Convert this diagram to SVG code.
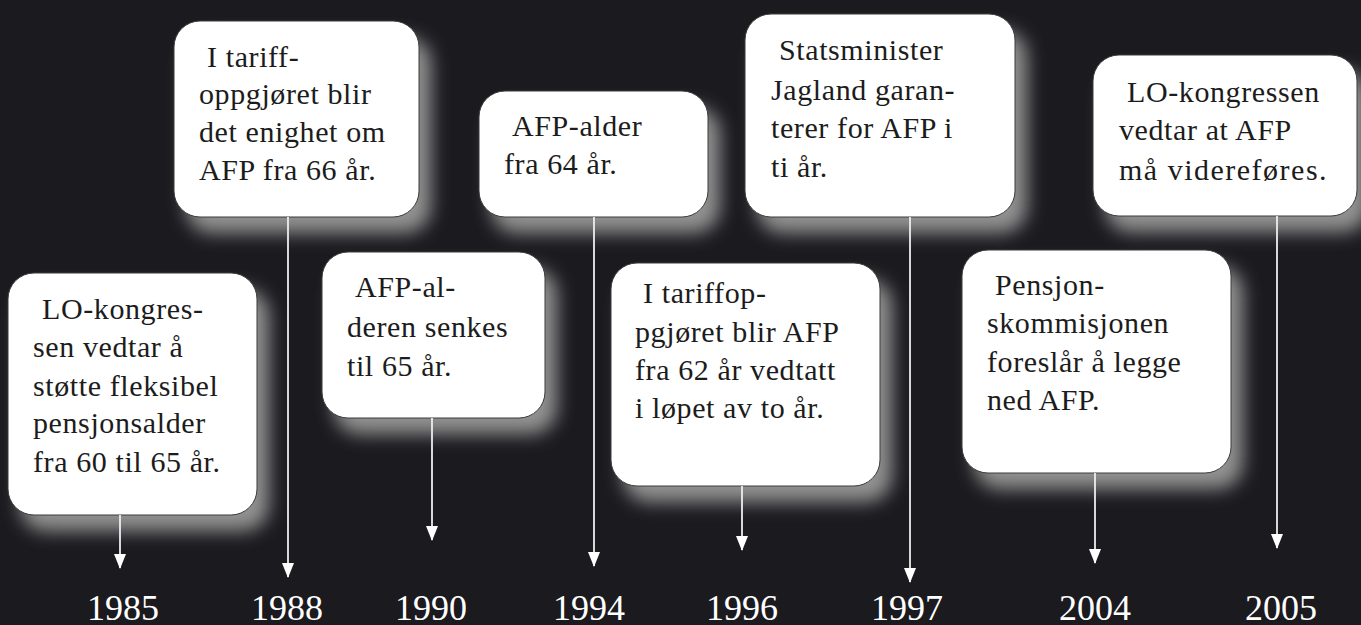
<svg xmlns="http://www.w3.org/2000/svg" width="1361" height="625" viewBox="0 0 1361 625">
<defs>
<style>
.bg{fill:#1b1a1f}
.sh{fill:#929292;filter:url(#blur)}
.box{fill:#ffffff;stroke:#3a3a3a;stroke-width:1}
.t{font-family:"Liberation Serif","Times New Roman",serif;font-size:30px;letter-spacing:0.6px;fill:#1c1c1c}
.yr{font-family:"Liberation Serif","Times New Roman",serif;font-size:36px;fill:#ffffff;text-anchor:middle}
.ln{stroke:#eeeeee;stroke-width:1.8;fill:none;marker-end:url(#ah)}
</style>
<filter id="blur" x="-30%" y="-30%" width="160%" height="160%">
<feGaussianBlur stdDeviation="9"/>
</filter>
<marker id="ah" viewBox="0 0 15 12" refX="14" refY="6" markerWidth="15" markerHeight="12" markerUnits="userSpaceOnUse" orient="auto">
<path d="M0,0 L15,6 L0,12 Z" fill="#ffffff"/>
</marker>
</defs>
<rect class="bg" x="0" y="0" width="1361" height="625"/>

<g id="node-1985">
<rect class="sh" x="20" y="289" width="249" height="242" rx="26"/>
<rect class="box" x="8" y="273" width="249" height="242" rx="26"/>
<text class="t"><tspan x="42" y="319">LO-kongres-</tspan><tspan x="33" y="357">sen vedtar å</tspan><tspan x="33" y="396">støtte fleksibel</tspan><tspan x="33" y="433">pensjonsalder</tspan><tspan x="33" y="472">fra 60 til 65 år.</tspan></text>
</g>

<g id="node-1988">
<rect class="sh" x="186" y="37" width="245" height="196" rx="26"/>
<rect class="box" x="174" y="21" width="245" height="196" rx="26"/>
<text class="t"><tspan x="207" y="67">I tariff-</tspan><tspan x="199" y="104">oppgjøret blir</tspan><tspan x="199" y="142">det enighet om</tspan><tspan x="199" y="180">AFP fra 66 år.</tspan></text>
</g>

<g id="node-1990">
<rect class="sh" x="334" y="268" width="223" height="166" rx="26"/>
<rect class="box" x="322" y="252" width="223" height="166" rx="26"/>
<text class="t"><tspan x="355" y="297">AFP-al-</tspan><tspan x="347" y="337">deren senkes</tspan><tspan x="347" y="376">til 65 år.</tspan></text>
</g>

<g id="node-1994">
<rect class="sh" x="491" y="107" width="229" height="126" rx="26"/>
<rect class="box" x="479" y="91" width="229" height="126" rx="26"/>
<text class="t"><tspan x="512" y="136">AFP-alder</tspan><tspan x="504" y="174">fra 64 år.</tspan></text>
</g>

<g id="node-1996">
<rect class="sh" x="623" y="279" width="269" height="223" rx="26"/>
<rect class="box" x="611" y="263" width="269" height="223" rx="26"/>
<text class="t"><tspan x="643" y="303">I tariffop-</tspan><tspan x="635" y="342">pgjøret blir AFP</tspan><tspan x="635" y="380">fra 62 år vedtatt</tspan><tspan x="635" y="418">i løpet av to år.</tspan></text>
</g>

<g id="node-1997">
<rect class="sh" x="757" y="30" width="270" height="203" rx="26"/>
<rect class="box" x="745" y="14" width="270" height="203" rx="26"/>
<text class="t"><tspan x="779" y="60">Statsminister</tspan><tspan x="771" y="100">Jagland garan-</tspan><tspan x="771" y="138">terer for AFP i</tspan><tspan x="771" y="177">ti år.</tspan></text>
</g>

<g id="node-2004">
<rect class="sh" x="974" y="266" width="269" height="223" rx="26"/>
<rect class="box" x="962" y="250" width="269" height="223" rx="26"/>
<text class="t"><tspan x="995" y="295">Pensjon-</tspan><tspan x="987" y="333">skommisjonen</tspan><tspan x="987" y="372">foreslår å legge</tspan><tspan x="987" y="410">ned AFP.</tspan></text>
</g>

<g id="node-2005">
<rect class="sh" x="1105" y="71" width="264" height="161" rx="26"/>
<rect class="box" x="1093" y="55" width="264" height="161" rx="26"/>
<text class="t"><tspan x="1127" y="102">LO-kongressen</tspan><tspan x="1119" y="140">vedtar at AFP</tspan><tspan x="1119" y="180" letter-spacing="1.5">må videreføres.</tspan></text>
</g>

<g id="connectors">
<line class="ln" x1="120" y1="515" x2="120" y2="568"/>
<line class="ln" x1="288" y1="217" x2="288" y2="577"/>
<line class="ln" x1="432" y1="418" x2="432" y2="540"/>
<line class="ln" x1="594" y1="217" x2="594" y2="566"/>
<line class="ln" x1="742" y1="486" x2="742" y2="550"/>
<line class="ln" x1="910" y1="217" x2="910" y2="582"/>
<line class="ln" x1="1095" y1="473" x2="1095" y2="563"/>
<line class="ln" x1="1277" y1="216" x2="1277" y2="548"/>
</g>

<g id="years">
<text class="yr" x="123" y="620">1985</text>
<text class="yr" x="287" y="620">1988</text>
<text class="yr" x="431" y="620">1990</text>
<text class="yr" x="589" y="620">1994</text>
<text class="yr" x="742" y="620">1996</text>
<text class="yr" x="907" y="620">1997</text>
<text class="yr" x="1095" y="620">2004</text>
<text class="yr" x="1281" y="620">2005</text>
</g>
</svg>
